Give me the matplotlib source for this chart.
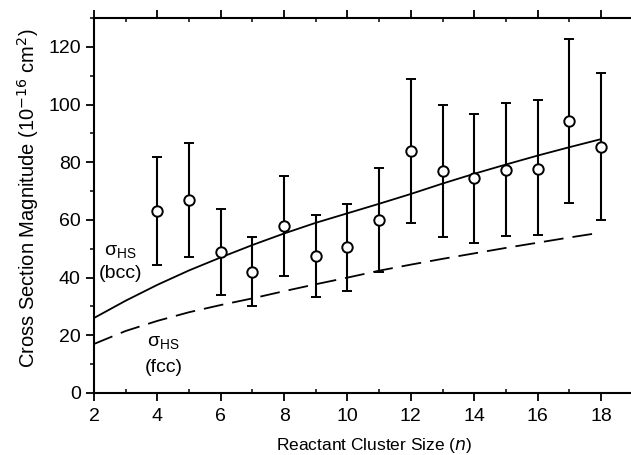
import numpy as np
import matplotlib.pyplot as plt
from matplotlib.ticker import MultipleLocator

plt.rcParams['font.family'] = ['Liberation Sans', 'DejaVu Sans']

# measured cross sections with asymmetric error bars
n = [4, 5, 6, 7, 8, 9, 10, 11, 12, 13, 14, 15, 16, 17, 18]
sigma = [63.1, 67.0, 49.0, 42.0, 58.0, 47.5, 50.5, 60.0, 84.0, 77.0, 74.5, 77.3, 77.8, 94.3, 85.2]
err_hi = [81.9, 86.8, 63.8, 54.2, 75.4, 61.7, 65.5, 78.0, 109.0, 100.0, 96.8, 100.7, 101.6, 122.8, 111.0]
err_lo = [44.2, 47.0, 34.0, 30.0, 40.6, 33.2, 35.5, 42.0, 59.0, 54.0, 52.0, 54.5, 54.8, 66.0, 59.8]

# hard-sphere curves
n_curve = [2, 3, 4, 5, 6, 7, 8, 9, 10, 11, 12, 13, 14, 15, 16, 17, 18]
bcc = [26.0, 32.0, 37.5, 42.5, 47.0, 51.3, 55.3, 59.0, 62.3, 65.6, 69.0, 72.6, 76.0, 79.2, 82.3, 85.2, 88.0]
fcc = [17.0, 21.5, 25.0, 28.0, 30.5, 32.8, 35.3, 37.7, 40.0, 42.4, 44.5, 46.5, 48.4, 50.3, 52.1, 53.9, 55.6]

fig = plt.figure(figsize=(6.31, 4.55), dpi=100)
ax = fig.add_axes([0.149, 0.1363, 0.851, 0.8241])

ax.plot(n_curve, bcc, color='black', lw=1.3)
ax.plot(n_curve, fcc, color='black', lw=1.3, dashes=(11, 5))

s = np.array(sigma)
yerr = [s - np.array(err_lo), np.array(err_hi) - s]
ax.errorbar(n, sigma, yerr=yerr, fmt='o', mfc='white', mec='black', mew=1.4,
            ms=7.5, ecolor='black', elinewidth=1.5, capsize=3.5, capthick=1.5,
            zorder=3)

# upright sigma with HS subscript
lbl = r'$\mathregular{σ_{HS}}$'
ax.text(2.82, 49, lbl, fontsize=14, ha='center', va='center')
ax.text(2.85, 41.5, '(bcc)', fontsize=14, ha='center', va='center')
ax.text(4.2, 17.5, lbl, fontsize=14, ha='center', va='center')
ax.text(4.2, 9.0, '(fcc)', fontsize=14, ha='center', va='center')

ax.set_xlim(2, 18.95)
ax.set_ylim(0, 130)
ax.xaxis.set_major_locator(MultipleLocator(2))
ax.xaxis.set_minor_locator(MultipleLocator(1))
ax.yaxis.set_major_locator(MultipleLocator(20))
ax.yaxis.set_minor_locator(MultipleLocator(10))
ax.set_yticks([0, 20, 40, 60, 80, 100, 120])

ax.spines['right'].set_visible(False)
for sp in ['left', 'bottom', 'top']:
    ax.spines[sp].set_linewidth(1.5)

ax.tick_params(which='major', direction='out', length=6, width=1.3, labelsize=14)
ax.tick_params(which='minor', direction='out', length=3, width=1.1)
ax.tick_params(axis='x', which='both', top=True, labeltop=False)
ax.tick_params(axis='x', which='major', pad=5)
ax.tick_params(axis='y', which='both', right=False)
ax.tick_params(axis='x', which='minor', bottom=True, direction='in')

ax.set_xlabel('Reactant Cluster Size ($\\it{n}$)', fontsize=12.5)
ax.xaxis.set_label_coords(0.521, -0.115)
ax.set_ylabel('Cross Section Magnitude (10$^{-16}$ cm$^2$)', fontsize=14.5)
ax.yaxis.set_label_coords(-0.098, 0.52)

fig.savefig('out.png', dpi=100)
